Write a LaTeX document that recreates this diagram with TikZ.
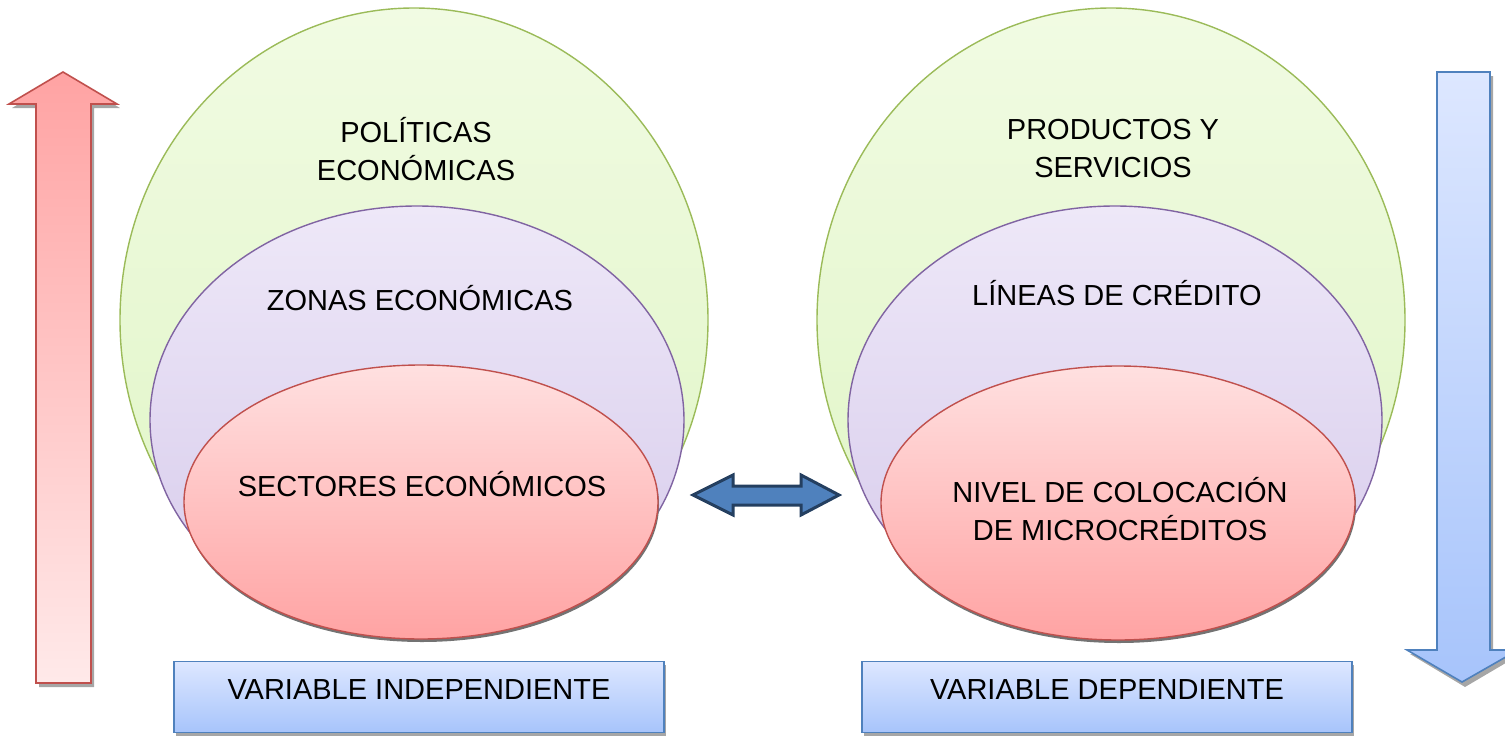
\documentclass[tikz,border=0pt]{standalone}
\usepackage{fontspec}
\setmainfont{Liberation Sans}
\usetikzlibrary{shapes.geometric}
\definecolor{gfillT}{HTML}{F1FBE3}
\definecolor{gfillB}{HTML}{DFF5C4}
\definecolor{gline}{HTML}{9BBB59}
\definecolor{pfillT}{HTML}{EEE8F8}
\definecolor{pfillB}{HTML}{D6CAEB}
\definecolor{pline}{HTML}{8064A2}
\definecolor{rfillT}{HTML}{FFE0E0}
\definecolor{rfillB}{HTML}{FFA3A3}
\definecolor{rline}{HTML}{C0504D}
\definecolor{bfillT}{HTML}{DDE7FF}
\definecolor{bfillB}{HTML}{A7C4FB}
\definecolor{bline}{HTML}{4F81BD}
\definecolor{darr}{HTML}{4F81BD}
\definecolor{darrline}{HTML}{243F60}
\tikzset{
  greenell/.style={ellipse, inner sep=0pt, top color=gfillT, bottom color=gfillB, draw=gline, line width=1.4pt},
  purpleell/.style={ellipse, inner sep=0pt, top color=pfillT, bottom color=pfillB, draw=pline, line width=1.4pt},
  redell/.style={ellipse, inner sep=0pt, top color=rfillT, bottom color=rfillB, draw=rline, line width=1.4pt},
  shadowell/.style={ellipse, inner sep=0pt, fill=black!55},
  varbox/.style={rectangle, inner sep=0pt, minimum width=490pt, minimum height=71pt, top color=bfillT, bottom color=bfillB, draw=bline, line width=1.5pt},
  boxshadow/.style={rectangle, inner sep=0pt, minimum width=490pt, minimum height=71pt, fill=black!35},
  lbl/.style={font=\fontsize{29}{38}\selectfont, align=center, text=black, inner sep=0pt}
}
\begin{document}
\begin{tikzpicture}[x=1pt,y=-1pt]
\useasboundingbox (0,0) rectangle (1505,736);
% left up arrow
\fill[black!35] (66,76) -- (120,108) -- (94,108) -- (94,687) -- (39,687) -- (39,108) -- (12,108) -- cycle;
\shadedraw[top color=rfillB, bottom color=rfillT!70!white, draw=rline, line width=1.6pt]
  (63,72) -- (117,104) -- (91,104) -- (91,683) -- (36,683) -- (36,104) -- (9,104) -- cycle;
% right down arrow
\fill[black!35] (1440,76) -- (1493,76) -- (1493,654) -- (1521,654) -- (1465,687) -- (1410,654) -- (1440,654) -- cycle;
\shadedraw[top color=bfillT, bottom color=bfillB, draw=bline, line width=1.6pt]
  (1437,72) -- (1490,72) -- (1490,650) -- (1518,650) -- (1462,682) -- (1407,650) -- (1437,650) -- cycle;
% left group
\node[greenell, minimum width=588pt, minimum height=624pt] (g1) at (414,320) {};
\node[purpleell, minimum width=534pt, minimum height=428pt] (p1) at (417,420) {};
\node[shadowell, minimum width=474pt, minimum height=274pt] (s1) at (422,505) {};
\node[redell, minimum width=474pt, minimum height=274pt] (r1) at (421,502) {};
\node[lbl] (t1) at (416,149) {POLÍTICAS\\ECONÓMICAS};
\node[lbl] (t2) at (420,298) {ZONAS ECONÓMICAS};
\node[lbl] (t3) at (422,484) {SECTORES ECONÓMICOS};
% right group
\node[greenell, minimum width=588pt, minimum height=624pt] (g2) at (1111,320) {};
\node[purpleell, minimum width=534pt, minimum height=428pt] (p2) at (1115,420) {};
\node[shadowell, minimum width=474pt, minimum height=274pt] (s2) at (1119,506) {};
\node[redell, minimum width=474pt, minimum height=274pt] (r2) at (1118,503) {};
\node[lbl] (t4) at (1113,149) {PRODUCTOS Y\\SERVICIOS};
\node[lbl] (t5) at (1117,293) {LÍNEAS DE CRÉDITO};
\node[lbl] (t6) at (1120,509) {NIVEL DE COLOCACIÓN\\DE MICROCRÉDITOS};
% boxes
\node[boxshadow] at (421,700) {};
\node[varbox] (b1) at (419,697) {};
\node[lbl] (bt1) at (419,690) {VARIABLE INDEPENDIENTE};
\node[boxshadow] at (1109,700) {};
\node[varbox] (b2) at (1107,697) {};
\node[lbl] (bt2) at (1107,690) {VARIABLE DEPENDIENTE};
% double arrow
\filldraw[fill=darr, draw=darrline, line width=3pt, line join=miter]
  (693,495) -- (733,475) -- (733,486) -- (801,486) -- (801,475) -- (839,495) -- (801,515) -- (801,505) -- (733,505) -- (733,515) -- cycle;
\end{tikzpicture}
\end{document}
